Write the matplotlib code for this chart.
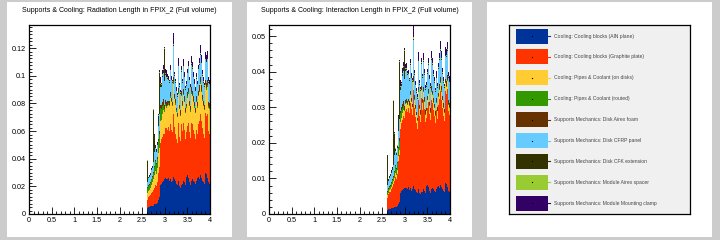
"""
Supports & Cooling material budget of FPIX_2, stacked per component (ROOT style).
"""

import matplotlib
matplotlib.use("Agg")
import matplotlib.pyplot as plt
import numpy as np
from matplotlib.patches import Rectangle
from matplotlib.ticker import MultipleLocator

plt.rcParams["font.family"] = ["Liberation Sans", "DejaVu Sans"]

# bin layout: eta bins of 0.02 from 2.6 to 4.0 (everything below is empty)
eta_lo = 2.6
bin_w = 0.02
n_bins = 70

labels = [
    "Cooling: Cooling blocks (AlN plane)",
    "Cooling: Cooling blocks (Graphite plate)",
    "Cooling: Pipes & Coolant (on disks)",
    "Cooling: Pipes & Coolant (routed)",
    "Supports Mechanics: Disk Airex foam",
    "Supports Mechanics: Disk CFRP panel",
    "Supports Mechanics: Disk CFK extension",
    "Supports Mechanics: Module Airex spacer",
    "Supports Mechanics: Module Mounting clamp",
]
colors = ["#003399", "#ff3300", "#ffcc33", "#339900", "#663300",
          "#66ccff", "#333300", "#99cc33", "#330066"]

# ---- radiation length (x/X0), in units of 1e-3 ----
x0_aln = [4, 4.5, 5, 5, 5.5, 6, 6, 6, 7, 7,
          7, 8, 9, 10, 12, 21, 22, 23, 24, 25,
          26, 25, 24, 25, 26, 24, 25, 23, 24, 27,
          25, 24, 22, 23, 21, 24, 20, 19, 21, 22,
          24, 23, 21, 29, 27, 28, 26, 23, 21, 24,
          25, 24, 23, 22, 21, 24, 26, 27, 25, 28,
          26, 24, 23, 22, 29, 30, 29, 26, 23, 22]
x0_graphite = [6, 7, 7, 8, 8, 9, 10, 11, 12, 14,
               13, 15, 18, 20, 22, 30, 32, 33, 34, 33,
               36, 37, 38, 36, 37, 36, 40, 38, 35, 45,
               38, 34, 32, 34, 30, 42, 36, 34, 44, 38,
               42, 38, 33, 45, 32, 36, 40, 36, 34, 42,
               40, 37, 35, 32, 31, 37, 32, 38, 42, 44,
               41, 38, 35, 33, 34, 43, 42, 46, 37, 36]
x0_pipes_disk = [5, 5, 4.5, 4, 5, 6, 7, 8, 9, 10,
                 9, 10, 12, 14, 14, 16, 14, 16, 17, 16,
                 16, 15, 16, 17, 16, 18, 19, 20, 19, 22,
                 20, 21, 20, 20, 19, 21, 20, 18, 20, 18,
                 20, 20, 19, 21, 18, 20, 21, 19, 19, 21,
                 20, 20, 19, 19, 18, 20, 19, 20, 21, 22,
                 21, 20, 20, 20, 20, 20, 19, 20, 17, 18]
x0_pipes_routed = [4, 4, 4, 4, 4, 4, 4, 5, 6, 7,
                   7, 7, 8, 9, 10, 10, 8, 6, 4, 2,
                   1.2, 1, 1, 0.9, 1, 1, 1.1, 1, 0.9, 1.2,
                   1, 1, 0.9, 1, 0.8, 1.1, 1, 0.9, 1, 1,
                   1.1, 1, 0.9, 1.2, 0.9, 1, 1, 1, 0.9, 1.1,
                   1, 1, 1, 0.9, 0.9, 1, 1, 1, 1.1, 1.2,
                   1.1, 1, 1, 1, 1, 1.1, 1, 1.1, 0.9, 1]
x0_airex = [0.5, 0.5, 0.5, 0.5, 0.5, 0.5, 0.5, 0.5, 1, 1,
            1, 1, 1, 1, 2, 2, 3, 3, 4, 3,
            3, 3, 3, 3, 2, 3, 3, 2, 2, 4,
            3, 3, 2, 3, 2, 3, 2, 3, 3, 3,
            3, 3, 3, 4, 2, 3, 3, 3, 3, 4,
            3, 3, 3, 3, 3, 3, 3, 3, 4, 4,
            4, 3, 3, 3, 3, 3, 4, 4, 3, 3]
x0_cfrp = [4, 5, 5, 5, 5.5, 6, 6, 7, 10, 9,
           8, 9, 10, 10, 12, 13, 13, 18, 19, 17,
           18, 18, 16, 16, 15, 13, 16, 13, 14, 22,
           13, 12, 12, 13, 12, 16, 13, 12, 14, 13,
           16, 14, 13, 16, 13, 14, 15, 14, 13, 16,
           16, 14, 13, 12, 12, 13, 12, 15, 15, 16,
           16, 14, 13, 13, 13, 14, 15, 15, 14, 13]
x0_cfk = [15, 0.5, 0.5, 1, 1, 1, 1, 38, 12, 1,
          1, 1, 1, 7, 30, 2, 1, 1, 2, 23,
          1, 0.5, 0.5, 0.5, 0.5, 0.5, 0.5, 0.5, 0.5, 1,
          0.5, 0.5, 0.5, 0.5, 0.5, 0.5, 0.5, 0.5, 0.5, 0.5,
          0.5, 0.5, 0.5, 0.5, 0.5, 0.5, 0.5, 0.5, 0.5, 0.5,
          0.5, 0.5, 0.5, 0.5, 0.5, 0.5, 0.5, 0.5, 0.5, 0.5,
          0.5, 0.5, 0.5, 0.5, 0.5, 0.5, 0.5, 0.5, 0.5, 0.5]
x0_spacer = [0.2, 0.2, 0.2, 0.2, 0.2, 0.2, 0.2, 0.2, 0.5, 0.5,
             0.5, 0.5, 0.5, 0.5, 1, 1, 1, 1, 1, 1,
             1, 0.5, 0.5, 0.5, 0.5, 0.5, 0.5, 0.5, 0.5, 1,
             0.5, 0.5, 0.5, 0.5, 0.5, 0.5, 0.5, 0.5, 0.5, 0.5,
             0.5, 0.5, 0.5, 0.5, 0.5, 0.5, 0.5, 0.5, 0.5, 0.5,
             0.5, 0.5, 0.5, 0.5, 0.5, 0.5, 0.5, 0.5, 0.5, 0.5,
             0.5, 0.5, 0.5, 0.5, 0.5, 0.5, 0.5, 0.5, 0.5, 0.5]
x0_clamp = [0.3, 0.3, 0.3, 0.3, 0.3, 0.3, 0.3, 0.3, 0.5, 0.5,
            0.5, 0.5, 0.5, 0.5, 1, 4, 1, 3, 3, 1,
            3, 4, 3, 2, 2, 1, 3, 2, 1, 8,
            2, 2, 2, 2, 2, 5, 2, 2, 3, 2,
            5, 3, 2, 7, 2, 2, 4, 2, 2, 5,
            4, 3, 3, 2, 2, 3, 2, 3, 4, 6,
            5, 3, 3, 2, 2, 5, 4, 5, 3, 3]

# ---- interaction length (x/lambda0), in units of 1e-3 ----
l0_aln = [1.0, 1.2, 1.3, 1.4, 1.5, 1.6, 1.7, 1.8, 2.0, 2.1,
          2.1, 2.3, 2.6, 2.9, 3.4, 6.0, 6.4, 6.7, 7.0, 7.2,
          7.4, 7.2, 6.9, 7.1, 7.5, 6.8, 7.2, 6.6, 6.9, 7.8,
          7.1, 6.8, 6.3, 6.6, 6.0, 6.9, 5.8, 5.5, 6.1, 6.3,
          6.9, 6.6, 6.0, 8.4, 7.8, 8.1, 7.5, 6.6, 6.0, 6.9,
          7.2, 6.9, 6.6, 6.3, 6.0, 6.9, 7.5, 7.8, 7.2, 8.1,
          7.5, 6.9, 6.6, 6.3, 8.4, 8.7, 8.4, 7.5, 6.6, 6.3]
l0_graphite = [3.6, 4.2, 4.2, 4.8, 4.8, 5.4, 6.0, 6.6, 7.2, 8.4,
               7.8, 9.0, 10.8, 12.0, 13.2, 18.0, 19.2, 19.8, 20.4, 19.8,
               21.6, 22.2, 22.8, 21.6, 22.2, 21.6, 24.0, 22.8, 21.0, 27.0,
               22.8, 20.4, 19.2, 20.4, 18.0, 25.2, 21.6, 20.4, 26.4, 22.8,
               25.2, 22.8, 19.8, 27.0, 19.2, 21.6, 24.0, 21.6, 20.4, 25.2,
               24.0, 22.2, 21.0, 19.2, 18.6, 22.2, 19.2, 22.8, 25.2, 26.4,
               24.6, 22.8, 21.0, 19.8, 20.4, 25.8, 25.2, 27.6, 22.2, 21.6]
l0_pipes_disk = [0.6, 0.6, 0.5, 0.5, 0.6, 0.7, 0.8, 0.9, 1.0, 1.1,
                 1.0, 1.1, 1.3, 1.5, 1.5, 1.8, 1.5, 1.8, 1.9, 1.8,
                 1.8, 1.7, 1.8, 1.9, 1.8, 2.0, 2.1, 2.2, 2.1, 2.4,
                 2.2, 2.3, 2.2, 2.2, 2.1, 2.3, 2.2, 2.0, 2.2, 2.0,
                 2.2, 2.2, 2.1, 2.3, 2.0, 2.2, 2.3, 2.1, 2.1, 2.3,
                 2.2, 2.2, 2.1, 2.1, 2.0, 2.2, 2.1, 2.2, 2.3, 2.4,
                 2.3, 2.2, 2.2, 2.2, 2.2, 2.2, 2.1, 2.2, 1.9, 2.0]
l0_pipes_routed = [1.0, 1.0, 1.0, 1.0, 1.0, 1.0, 1.0, 1.2, 1.5, 1.8,
                   1.8, 1.8, 2.0, 2.2, 2.5, 2.5, 2.0, 1.5, 1.0, 0.5,
                   0.3, 0.25, 0.25, 0.2, 0.25, 0.25, 0.3, 0.25, 0.2, 0.3,
                   0.25, 0.25, 0.2, 0.25, 0.2, 0.3, 0.25, 0.2, 0.25, 0.25,
                   0.3, 0.25, 0.2, 0.3, 0.2, 0.25, 0.25, 0.25, 0.2, 0.3,
                   0.25, 0.25, 0.25, 0.2, 0.2, 0.25, 0.25, 0.25, 0.3, 0.3,
                   0.3, 0.25, 0.25, 0.25, 0.25, 0.3, 0.25, 0.3, 0.2, 0.25]
l0_airex = [0.2, 0.2, 0.2, 0.2, 0.2, 0.2, 0.2, 0.2, 0.35, 0.35,
            0.35, 0.35, 0.35, 0.35, 0.7, 0.7, 1.0, 1.0, 1.4, 1.0,
            1.0, 1.0, 1.0, 1.0, 0.7, 1.0, 1.0, 0.7, 0.7, 1.4,
            1.0, 1.0, 0.7, 1.0, 0.7, 1.0, 0.7, 1.0, 1.0, 1.0,
            1.0, 1.0, 1.0, 1.4, 0.7, 1.0, 1.0, 1.0, 1.0, 1.4,
            1.0, 1.0, 1.0, 1.0, 1.0, 1.0, 1.0, 1.0, 1.4, 1.4,
            1.4, 1.0, 1.0, 1.0, 1.0, 1.0, 1.4, 1.4, 1.0, 1.0]
l0_cfrp = [1.8, 2.2, 2.2, 2.2, 2.5, 2.7, 2.7, 3.1, 4.5, 4.0,
           3.6, 4.0, 4.5, 4.5, 5.4, 5.8, 5.8, 8.1, 8.5, 7.6,
           8.1, 8.1, 7.2, 7.2, 6.8, 5.8, 7.2, 5.8, 6.3, 9.9,
           5.8, 5.4, 5.4, 5.8, 5.4, 7.2, 5.8, 5.4, 6.3, 5.8,
           7.2, 6.3, 5.8, 7.2, 5.8, 6.3, 6.8, 6.3, 5.8, 7.2,
           7.2, 6.3, 5.8, 5.4, 5.4, 5.8, 5.4, 6.8, 6.8, 7.2,
           7.2, 6.3, 5.8, 5.8, 5.8, 6.3, 6.8, 6.8, 6.3, 5.8]
l0_cfk = [8.3, 0.3, 0.3, 0.5, 0.5, 0.5, 0.5, 18, 6, 0.5,
          0.5, 0.5, 0.5, 4, 16, 1, 0.5, 0.5, 1, 8,
          0.5, 0.3, 0.3, 0.3, 0.3, 0.3, 0.3, 0.3, 0.3, 0.5,
          0.3, 0.3, 0.3, 0.3, 0.3, 0.3, 0.3, 0.3, 0.3, 0.3,
          0.3, 0.3, 0.3, 0.3, 0.3, 0.3, 0.3, 0.3, 0.3, 0.3,
          0.3, 0.3, 0.3, 0.3, 0.3, 0.3, 0.3, 0.3, 0.3, 0.3,
          0.3, 0.3, 0.3, 0.3, 0.3, 0.3, 0.3, 0.3, 0.3, 0.3]
l0_spacer = [0.1, 0.1, 0.1, 0.1, 0.1, 0.1, 0.1, 0.1, 0.2, 0.2,
             0.2, 0.2, 0.2, 0.2, 0.3, 0.3, 0.3, 0.3, 0.3, 0.3,
             0.3, 0.2, 0.2, 0.2, 0.2, 0.2, 0.2, 0.2, 0.2, 0.3,
             0.2, 0.2, 0.2, 0.2, 0.2, 0.2, 0.2, 0.2, 0.2, 0.2,
             0.2, 0.2, 0.2, 0.2, 0.2, 0.2, 0.2, 0.2, 0.2, 0.2,
             0.2, 0.2, 0.2, 0.2, 0.2, 0.2, 0.2, 0.2, 0.2, 0.2,
             0.2, 0.2, 0.2, 0.2, 0.2, 0.2, 0.2, 0.2, 0.2, 0.2]
l0_clamp = [0.1, 0.1, 0.1, 0.1, 0.1, 0.1, 0.1, 0.1, 0.2, 0.2,
            0.2, 0.2, 0.2, 0.2, 0.4, 1.6, 0.4, 1.2, 1.2, 0.4,
            1.2, 1.6, 1.2, 0.8, 0.8, 0.4, 1.2, 0.8, 0.4, 3.2,
            0.8, 0.8, 0.8, 0.8, 0.8, 2.0, 0.8, 0.8, 1.2, 0.8,
            2.0, 1.2, 0.8, 2.8, 0.8, 0.8, 1.6, 0.8, 0.8, 2.0,
            1.6, 1.2, 1.2, 0.8, 0.8, 1.2, 0.8, 1.2, 1.6, 2.4,
            2.0, 1.2, 1.2, 0.8, 0.8, 2.0, 1.6, 2.0, 1.2, 1.2]

radiation = [x0_aln, x0_graphite, x0_pipes_disk, x0_pipes_routed, x0_airex,
             x0_cfrp, x0_cfk, x0_spacer, x0_clamp]
interaction = [l0_aln, l0_graphite, l0_pipes_disk, l0_pipes_routed, l0_airex,
               l0_cfrp, l0_cfk, l0_spacer, l0_clamp]

W, H = 720, 240


def fig_rect(x, y, w, h):
    """Pixel box (top-left origin) -> figure fraction [left, bottom, w, h]."""
    return [x / W, 1 - (y + h) / H, w / W, h / H]


def draw_stack(ax, series, ymax, y_major, y_minor, title, panel_x):
    edges = eta_lo + bin_w * np.arange(n_bins + 1)
    bottom = np.zeros(n_bins)
    for vals, col in zip(series, colors):
        v = np.asarray(vals, dtype=float) * 1e-3
        assert len(v) == n_bins
        top = bottom + v
        ax.stairs(top, edges, baseline=bottom, fill=True, color=col,
                  linewidth=0, antialiased=False)
        bottom = top

    ax.set_xlim(0, 4)
    ax.set_ylim(0, ymax)
    ax.xaxis.set_major_locator(MultipleLocator(0.5))
    ax.xaxis.set_minor_locator(MultipleLocator(0.1))
    ax.yaxis.set_major_locator(MultipleLocator(y_major))
    ax.yaxis.set_minor_locator(MultipleLocator(y_minor))
    ax.xaxis.set_major_formatter(plt.FuncFormatter(lambda v, p: f"{v:g}"))
    ax.yaxis.set_major_formatter(plt.FuncFormatter(lambda v, p: f"{v:g}"))
    ax.tick_params(which="both", direction="in", top=False, right=False,
                   labelsize=5.2, width=0.6, pad=2)
    ax.tick_params(which="major", length=5)
    ax.tick_params(which="minor", length=2.5)
    for s in ax.spines.values():
        s.set_linewidth(0.9)
    fig.text((panel_x + 112.5) / W, 1 - 11 / H, title, ha="center",
             va="center", fontsize=5.0)


fig = plt.figure(figsize=(W / 100, H / 100), dpi=100)
fig.patch.set_facecolor("#cccccc")

# white pads behind every panel
for px in (7, 247, 487):
    fig.patches.append(Rectangle((px / W, 3 / H), 225 / W, 235 / H,
                                 transform=fig.transFigure, zorder=-10,
                                 facecolor="white", edgecolor="none"))

ax1 = fig.add_axes(fig_rect(29, 25, 181, 189))
draw_stack(ax1, radiation, 0.1367, 0.02, 0.0025,
           "Supports & Cooling: Radiation Length in FPIX_2 (Full volume)", 7)

ax2 = fig.add_axes(fig_rect(269, 25, 181, 189))
draw_stack(ax2, interaction, 0.0531, 0.01, 0.002,
           "Supports & Cooling: Interaction Length in FPIX_2 (Full volume)", 247)

# legend pad drawn in pixel coordinates
axl = fig.add_axes(fig_rect(509, 25, 181, 189))
axl.set_xlim(509, 690)
axl.set_ylim(214, 25)
axl.set_facecolor("#f0f0f0")
axl.set_xticks([])
axl.set_yticks([])
for s in axl.spines.values():
    s.set_linewidth(0.9)
for i, (lab, col) in enumerate(zip(labels, colors)):
    yc = 36 + i * 20.9
    axl.add_patch(Rectangle((516, yc - 7.5), 32, 15, facecolor=col,
                            edgecolor="none"))
    axl.plot([532], [yc], marker="s", ms=0.8, color="black", mew=0)
    axl.plot([548, 550], [yc, yc], color=col, lw=0.8)
    axl.text(554, yc, lab, ha="left", va="center", fontsize=3.6,
             color="#444444")

fig.savefig("out.png", dpi=100, facecolor=fig.get_facecolor())
plt.close(fig)
